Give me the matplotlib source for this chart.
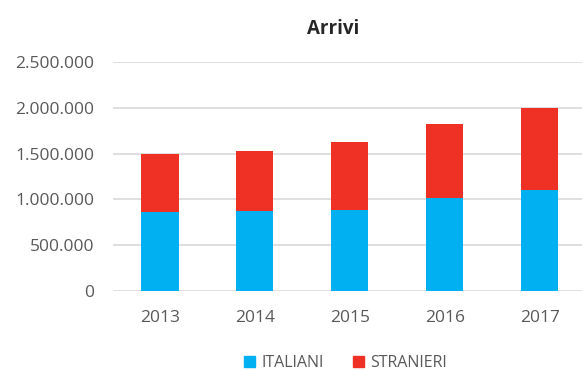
import matplotlib.pyplot as plt
from matplotlib.ticker import FuncFormatter
from matplotlib.patches import Patch

# Arrivi per anno, suddivisi tra italiani e stranieri
anni = ["2013", "2014", "2015", "2016", "2017"]
italiani = [866000, 868000, 884000, 1012000, 1103000]
stranieri = [634000, 664000, 739000, 808000, 898000]

BLU = "#00B0F0"
ROSSO = "#EE3124"
GRIGIO_TESTO = "#595959"
GRIGIO_GRIGLIA = "#D9D9D9"

plt.rcParams["font.family"] = ["Open Sans", "DejaVu Sans"]


def formato_migliaia(v, pos):
    """Numero con il punto come separatore delle migliaia."""
    return f"{int(v):,}".replace(",", ".")


fig = plt.figure(figsize=(5.82, 3.70), dpi=100)
ax = fig.add_axes([0.1933, 0.2135, 0.816, 0.619])

x = range(len(anni))
ax.bar(x, italiani, width=0.39, color=BLU, zorder=3)
ax.bar(x, stranieri, width=0.39, bottom=italiani, color=ROSSO, zorder=3)

ax.set_xlim(-0.5, len(anni) - 0.5)
ax.set_ylim(0, 2500000)
ax.set_yticks([0, 500000, 1000000, 1500000, 2000000, 2500000])
ax.yaxis.set_major_formatter(FuncFormatter(formato_migliaia))
ax.set_xticks(list(x))
ax.set_xticklabels(anni)

ax.grid(axis="y", color=GRIGIO_GRIGLIA, linewidth=1.2, zorder=0)
for s in ax.spines.values():
    s.set_visible(False)
ax.tick_params(length=0, colors=GRIGIO_TESTO, labelsize=12.5)
ax.tick_params(axis="y", pad=13)
ax.tick_params(axis="x", pad=14)

fig.text(0.572, 0.922, "Arrivi", ha="center", va="center",
         fontsize=13.5, fontweight="bold", color="#262626")

maniglie = [Patch(color=BLU, label="ITALIANI"),
            Patch(color=ROSSO, label="STRANIERI")]
fig.legend(handles=maniglie, loc="center", bbox_to_anchor=(0.594, 0.018),
           ncol=2, frameon=False, fontsize=11.5, handlelength=0.7,
           handleheight=0.7, handletextpad=0.4, columnspacing=1.8,
           labelcolor=GRIGIO_TESTO)

fig.savefig("out.png", dpi=100)
